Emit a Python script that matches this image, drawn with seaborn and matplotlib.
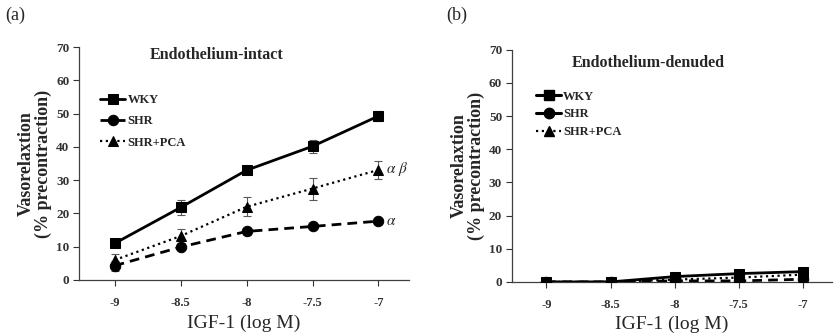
import numpy as np
import pandas as pd
import matplotlib
matplotlib.use("Agg")
import matplotlib.pyplot as plt
from matplotlib.lines import Line2D
import seaborn as sns

# ---- data ----
log_conc = [-9, -8.5, -8, -7.5, -7]
xtick_labels = ["-9", "-8.5", "-8", "-7.5", "-7"]
series_names = ["WKY", "SHR", "SHR+PCA"]

intact_wky = [11.0, 21.8, 33.0, 40.2, 49.3]
intact_wky_err = [1.0, 2.2, 1.0, 2.0, 1.5]
intact_shr = [4.3, 9.9, 14.6, 16.1, 17.7]
intact_shr_err = [1.5, 1.0, 1.0, 0.6, 0.6]
intact_pca = [6.0, 13.2, 22.0, 27.5, 33.1]
intact_pca_err = [1.8, 2.2, 2.9, 3.3, 2.7]

denuded_wky = [0.0, 0.0, 1.6, 2.5, 3.1]
denuded_shr = [0.0, 0.0, 0.3, 0.3, 0.8]
denuded_pca = [0.0, 0.0, 0.7, 1.3, 2.2]

yticks = [0, 10, 20, 30, 40, 50, 60, 70]

sns.set_style("ticks")
plt.rcParams['font.family'] = ['Liberation Serif', 'DejaVu Serif']
plt.rcParams['mathtext.fontset'] = 'stix'

fig = plt.figure(figsize=(8.35, 3.34), dpi=100)
axA = fig.add_axes([0.0946, 0.1617, 0.395, 0.697])
axB = fig.add_axes([0.613, 0.156, 0.384, 0.695])

styles = {
    "WKY": dict(marker='s', linestyle='-', lw=2.0, ms=7.5),
    "SHR": dict(marker='o', linestyle=(0, (3.5, 2.2)), lw=2.0, ms=7.5),
    "SHR+PCA": dict(marker='^', linestyle=(0, (1, 1.6)), lw=1.6, ms=7.5),
}


def draw(ax, vals, errs):
    for name, y, e in zip(series_names, vals, errs):
        st = styles[name]
        if e is not None:
            ax.errorbar(log_conc, y, yerr=e, fmt='none', ecolor='0.35',
                        elinewidth=0.8, capsize=3, capthick=0.8, zorder=2)
        sns.lineplot(x=log_conc, y=y, ax=ax, color='black', marker=st['marker'],
                     linestyle=st['linestyle'], linewidth=st['lw'], markersize=st['ms'],
                     markeredgecolor='black', label=name, zorder=3)


draw(axA, [intact_wky, intact_shr, intact_pca],
     [intact_wky_err, intact_shr_err, intact_pca_err])
draw(axB, [denuded_wky, denuded_shr, denuded_pca], [None, None, None])

for ax in (axA, axB):
    ax.set_xlim(-9.27, -6.77)
    ax.set_ylim(0, 70)
    ax.set_xticks(log_conc)
    ax.set_xticklabels(xtick_labels, fontsize=9, fontweight='bold')
    ax.set_yticks(yticks)
    ax.set_yticklabels([str(t) for t in yticks], fontsize=9.5, fontweight='bold')
    ax.tick_params(direction='out', length=4, width=0.8, colors='0.2', pad=8)
    ax.tick_params(axis='y', pad=3)
    for s in ('top', 'right'):
        ax.spines[s].set_visible(False)
    for s in ('left', 'bottom'):
        ax.spines[s].set_linewidth(0.9)
        ax.spines[s].set_color('0.25')
    ax.set_xlabel("IGF-1 (log M)", fontsize=14, labelpad=4)
    ax.set_ylabel("Vasorelaxtion\n(% precontraction)", fontsize=13,
                  fontweight='bold', labelpad=3, linespacing=0.95)

axA.text(0.418, 0.965, "Endothelium-intact", transform=axA.transAxes,
         ha='center', va='center', fontsize=11.5, fontweight='bold')
axB.text(0.424, 0.944, "Endothelium-denuded", transform=axB.transAxes,
         ha='center', va='center', fontsize=11.5, fontweight='bold')

axA.text(-6.94, intact_pca[-1] + 0.3, r"$\alpha\ \beta$", fontsize=11, va='center', ha='left')
axA.text(-6.94, intact_shr[-1], r"$\alpha$", fontsize=11, va='center', ha='left')

axA.legend(loc='upper left', bbox_to_anchor=(0.05, 0.82), frameon=False,
           prop={'weight': 'bold', 'size': 9}, handlelength=2.0,
           handletextpad=0.15, labelspacing=0.75, borderaxespad=0)

hB = [Line2D([], [], color='black', marker='s', lw=2.2, ms=7.5),
      Line2D([], [], color='black', marker='o', lw=2.2, ms=7.5),
      Line2D([], [], color='black', marker='^', linestyle=(0, (1, 1.6)), lw=1.6, ms=7.5)]
axB.legend(hB, series_names, loc='upper left', bbox_to_anchor=(0.06, 0.845), frameon=False,
           prop={'weight': 'bold', 'size': 9}, handlelength=2.0,
           handletextpad=0.15, labelspacing=0.45, borderaxespad=0)

fig.text(0.006, 0.955, "(a)", fontsize=13, ha='left', va='center')
fig.text(0.535, 0.955, "(b)", fontsize=13, ha='left', va='center')

fig.savefig("out.png", dpi=100)
